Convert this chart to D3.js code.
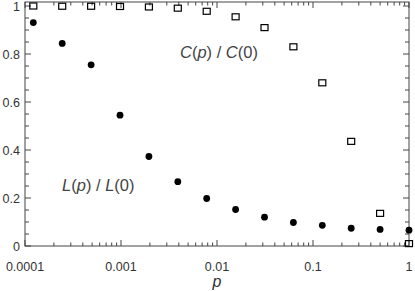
<!DOCTYPE html>
<html><head><meta charset="utf-8">
<script src="https://cdn.jsdelivr.net/npm/d3@7"></script>
<style>html,body{margin:0;padding:0;background:#fff}</style>
</head><body>
<svg id="c" width="415" height="291"></svg>
<script>
const pValues = [0.0001220703125, 0.000244140625, 0.00048828125, 0.0009765625, 0.001953125, 0.00390625, 0.0078125, 0.015625, 0.03125, 0.0625, 0.125, 0.25, 0.5, 1];
const lRatio = [0.931, 0.844, 0.755, 0.545, 0.373, 0.268, 0.198, 0.152, 0.120, 0.098, 0.086, 0.074, 0.069, 0.066];
const cRatio = [1.0, 0.999, 0.999, 0.998, 0.996, 0.991, 0.978, 0.955, 0.910, 0.830, 0.680, 0.436, 0.136, 0.010];
const xTickVals = [0.0001, 0.001, 0.01, 0.1, 1];
const xTickLabels = ["0.0001", "0.001", "0.01", "0.1", "1"];
const yTickVals = [0, 0.2, 0.4, 0.6, 0.8, 1];
const yTickLabels = ["0", "0.2", "0.4", "0.6", "0.8", "1"];

const svg = d3.select("#c");
const L = 25, R = 409, T = 2, B = 246;
const x = d3.scaleLog().domain([0.0001, 1]).range([L, R]);
const y = d3.scaleLinear().domain([0, 1.0167]).range([B, T]);
const axisCol = "#444";
const font = "'Liberation Sans', Arial, sans-serif";

const xMinor = [];
for (let e = -4; e < 0; e++) for (let m = 2; m <= 9; m++) xMinor.push(m * Math.pow(10, e));
const yMinor = d3.range(0, 1.0001, 0.05).map(v => +v.toFixed(2)).filter(v => !yTickVals.includes(v));

const g = svg.append("g");
g.append("rect").attr("x", L).attr("y", T).attr("width", R - L).attr("height", B - T)
  .attr("fill", "none").attr("stroke", axisCol).attr("stroke-width", 1);

function ticks(vals, len) {
  vals.forEach(v => {
    const xx = x(v);
    g.append("line").attr("x1", xx).attr("x2", xx).attr("y1", B).attr("y2", B - len).attr("stroke", axisCol);
    g.append("line").attr("x1", xx).attr("x2", xx).attr("y1", T).attr("y2", T + len).attr("stroke", axisCol);
  });
}
ticks(xTickVals, 6);
ticks(xMinor, 3.5);
function yticks(vals, len) {
  vals.forEach(v => {
    const yy = y(v);
    g.append("line").attr("x1", L).attr("x2", L + len).attr("y1", yy).attr("y2", yy).attr("stroke", axisCol);
    g.append("line").attr("x1", R).attr("x2", R - len).attr("y1", yy).attr("y2", yy).attr("stroke", axisCol);
  });
}
yticks(yTickVals, 6);
yticks(yMinor, 4);

xTickVals.forEach((v, i) => {
  g.append("text").attr("x", x(v)).attr("y", 271).attr("text-anchor", "middle")
    .attr("font-family", font).attr("font-size", 12.5).attr("fill", "#333").text(xTickLabels[i]);
});
yTickVals.forEach((v, i) => {
  g.append("text").attr("x", 20).attr("y", y(v) + 4.5).attr("text-anchor", "end")
    .attr("font-family", font).attr("font-size", 12.5).attr("fill", "#333").text(yTickLabels[i]);
});
g.append("text").attr("x", 217).attr("y", 287).attr("text-anchor", "middle")
  .attr("font-family", font).attr("font-size", 16).attr("font-style", "italic").attr("fill", "#333").text("p");

g.selectAll("circle.l").data(pValues).enter().append("circle")
  .attr("cx", d => x(d)).attr("cy", (d, i) => y(lRatio[i])).attr("r", 3.4).attr("fill", "#000");
g.selectAll("rect.c").data(pValues).enter().append("rect")
  .attr("x", d => x(d) - 3.5).attr("y", (d, i) => y(cRatio[i]) - 3)
  .attr("width", 7).attr("height", 6).attr("fill", "none").attr("stroke", "#000").attr("stroke-width", 1.2);

function label(tx, ty, parts) {
  const t = g.append("text").attr("x", tx).attr("y", ty).attr("font-family", font)
    .attr("font-size", 16.5).attr("fill", "#444");
  parts.forEach(p => t.append("tspan").attr("font-style", p[1] ? "italic" : "normal").text(p[0]));
}
label(180, 58, [["C", true], ["(", false], ["p", true], [") / ", false], ["C", true], ["(0)", false]]);
label(62, 191, [["L", true], ["(", false], ["p", true], [") / ", false], ["L", true], ["(0)", false]]);
</script>
</body></html>
